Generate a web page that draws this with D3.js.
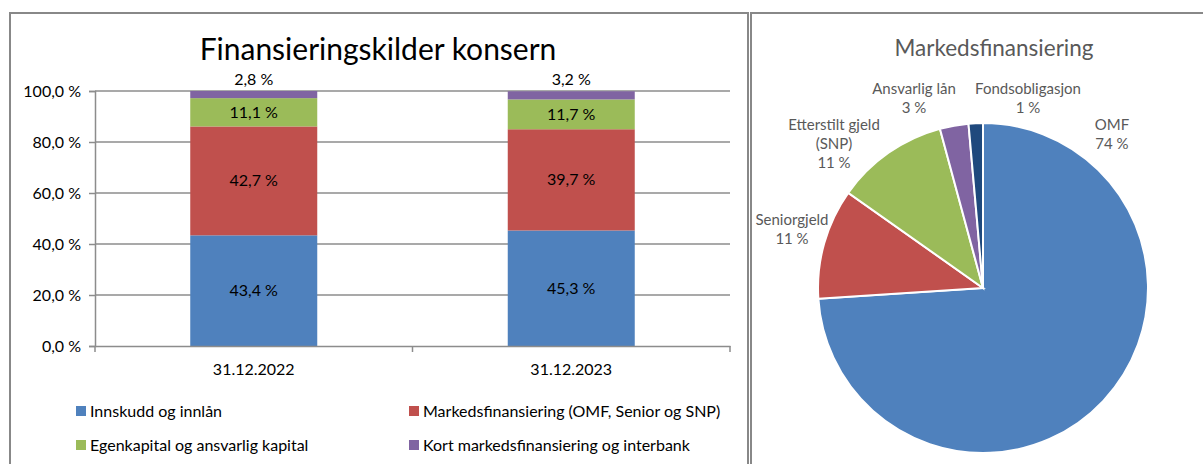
<!DOCTYPE html>
<html>
<head>
<meta charset="utf-8">
<script src="https://cdn.jsdelivr.net/npm/d3@7"></script>
<style>
  body { margin: 0; background: #fff; }
  svg { display: block; font-family: Lato, "Open Sans", sans-serif; }
</style>
</head>
<body>
<div id="chart"></div>
<script>
'use strict';

// Stacked bar data
var periods = ['31.12.2022', '31.12.2023'];
var seriesNames = ['Innskudd og innlån', 'Markedsfinansiering (OMF, Senior og SNP)',
  'Egenkapital og ansvarlig kapital', 'Kort markedsfinansiering og interbank'];
var innskudd = [43.4, 45.3];
var markeds = [42.7, 39.7];
var egenkapital = [11.1, 11.7];
var kort = [2.8, 3.2];
var yTicks = [0, 20, 40, 60, 80, 100];

// Pie data
var pieNames = ['OMF', 'Seniorgjeld', 'Etterstilt gjeld\n(SNP)', 'Ansvarlig lån', 'Fondsobligasjon'];
var pieValues = [73.9, 10.8, 11.0, 2.8, 1.4];
var pieLabels = ['74 %', '11 %', '11 %', '3 %', '1 %'];

var colors = ['#4F81BD', '#C0504D', '#9BBB59', '#8064A2'];
var pieColors = ['#4F81BD', '#C0504D', '#9BBB59', '#8064A2', '#1F497D'];

var W = 1203, H = 464;
var svg = d3.select('#chart').append('svg')
  .attr('width', W).attr('height', H);

// panel frames
var frame = svg.append('g').attr('stroke', '#888').attr('stroke-width', 2).attr('fill', 'none');
frame.append('path').attr('d', 'M10,464 V13 H748 V464');
frame.append('path').attr('d', 'M751,464 V13 H1203');

// ---------- Stacked bar chart ----------
var margin = {left: 95, right: 730, top: 91, bottom: 346};

var xScale = d3.scaleBand()
  .domain(periods)
  .range([margin.left, margin.right])
  .paddingInner(0.6)
  .paddingOuter(0.3);

var band = d3.scaleBand().domain(periods).range([margin.left, margin.right]);

var yScale = d3.scaleLinear()
  .domain([0, 100])
  .range([margin.bottom, margin.top]);

svg.append('text')
  .attr('x', 378).attr('y', 60)
  .attr('text-anchor', 'middle')
  .attr('font-size', 30)
  .attr('fill', '#000')
  .text('Finansieringskilder konsern');

// gridlines
svg.append('g').selectAll('line')
  .data(yTicks.slice(1))
  .enter().append('line')
  .attr('x1', margin.left).attr('x2', margin.right)
  .attr('y1', function(d) { return yScale(d); })
  .attr('y2', function(d) { return yScale(d); })
  .attr('stroke', '#8c8c8c').attr('stroke-width', 1.5);

// y axis
var yAxis = d3.axisLeft(yScale)
  .tickValues(yTicks)
  .tickSize(6)
  .tickPadding(8)
  .tickFormat(function(d) { return d.toFixed(1).replace('.', ',') + ' %'; });

svg.append('g')
  .attr('class', 'y axis')
  .attr('transform', 'translate(' + margin.left + ',0)')
  .call(yAxis)
  .call(function(g) {
    g.select('.domain').attr('stroke', '#8c8c8c').attr('stroke-width', 1.5);
    g.selectAll('.tick line').attr('stroke', '#8c8c8c').attr('stroke-width', 1.5);
    g.selectAll('.tick text').attr('font-size', 16).attr('fill', '#000')
      .attr('font-family', 'Lato, sans-serif');
  });

// stack
var rows = periods.map(function(p, i) {
  return {period: p, s0: innskudd[i], s1: markeds[i], s2: egenkapital[i], s3: kort[i]};
});
var stack = d3.stack().keys(['s0', 's1', 's2', 's3']);
var layers = stack(rows);

var layerG = svg.append('g').selectAll('g')
  .data(layers)
  .enter().append('g')
  .attr('fill', function(d, i) { return colors[i]; });

layerG.selectAll('rect')
  .data(function(d) { return d; })
  .enter().append('rect')
  .attr('x', function(d) { return xScale(d.data.period); })
  .attr('width', xScale.bandwidth())
  .attr('y', function(d) { return yScale(d[1]); })
  .attr('height', function(d) { return yScale(d[0]) - yScale(d[1]); });

// data labels
layers.forEach(function(layer, li) {
  layer.forEach(function(d) {
    var v = d[1] - d[0];
    var cx = xScale(d.data.period) + xScale.bandwidth() / 2;
    var cy = li === 3 ? yScale(d[1]) - 12 : (yScale(d[0]) + yScale(d[1])) / 2;
    svg.append('text')
      .attr('x', cx).attr('y', cy)
      .attr('dy', '0.35em')
      .attr('text-anchor', 'middle')
      .attr('font-size', 16)
      .attr('fill', '#000')
      .text(v.toFixed(1).replace('.', ',') + ' %');
  });
});

// x axis
var xAxis = d3.axisBottom(band).tickSize(0).tickPadding(18);
svg.append('g')
  .attr('class', 'x axis')
  .attr('transform', 'translate(0,' + margin.bottom + ')')
  .call(xAxis)
  .call(function(g) {
    g.select('.domain').attr('stroke', '#8c8c8c').attr('stroke-width', 1.5);
    g.selectAll('.tick text').attr('font-size', 16).attr('fill', '#000')
      .attr('font-family', 'Lato, sans-serif');
  });

// band edge ticks
var edges = [margin.left].concat(periods.map(function(p) { return band(p) + band.bandwidth(); }));
svg.append('g').selectAll('line')
  .data(edges)
  .enter().append('line')
  .attr('x1', function(d) { return d; }).attr('x2', function(d) { return d; })
  .attr('y1', margin.bottom).attr('y2', margin.bottom + 6)
  .attr('stroke', '#8c8c8c').attr('stroke-width', 1.5);

// legend
var legendPos = [[76, 411], [409, 411], [76, 445], [409, 445]];
var legend = svg.append('g').selectAll('g')
  .data(seriesNames)
  .enter().append('g')
  .attr('transform', function(d, i) { return 'translate(' + legendPos[i][0] + ',' + legendPos[i][1] + ')'; });
legend.append('rect')
  .attr('x', 0).attr('y', -5).attr('width', 10).attr('height', 10)
  .attr('fill', function(d, i) { return colors[i]; });
legend.append('text')
  .attr('x', 14).attr('dy', '0.35em')
  .attr('font-size', 16).attr('fill', '#000')
  .text(function(d) { return d; });

// ---------- Pie chart ----------
var pcx = 983, pcy = 288, radius = 165;

svg.append('text')
  .attr('x', 994).attr('y', 56)
  .attr('text-anchor', 'middle')
  .attr('font-size', 22.5)
  .attr('fill', '#595959')
  .text('Markedsfinansiering');

var pie = d3.pie().sort(null).value(function(d) { return d; });
var arc = d3.arc().innerRadius(0).outerRadius(radius);
var arcs = pie(pieValues);

var pieG = svg.append('g').attr('transform', 'translate(' + pcx + ',' + pcy + ')');
pieG.selectAll('path')
  .data(arcs)
  .enter().append('path')
  .attr('d', arc)
  .attr('fill', function(d, i) { return pieColors[i]; })
  .attr('stroke', '#fff')
  .attr('stroke-width', 2);

// label anchors relative to pie centre (centre of first line)
var labelAnchors = [[129, -163], [-191, -68], [-149, -163], [-69, -199], [45, -199]];
pieNames.forEach(function(name, i) {
  var lines = name.split('\n').concat([pieLabels[i]]);
  var t = pieG.append('text')
    .attr('text-anchor', 'middle')
    .attr('font-size', 15)
    .attr('fill', '#595959');
  lines.forEach(function(l, j) {
    t.append('tspan')
      .attr('x', labelAnchors[i][0])
      .attr('y', labelAnchors[i][1] + j * 19)
      .attr('dy', '0.35em')
      .text(l);
  });
});
</script>
</body>
</html>
